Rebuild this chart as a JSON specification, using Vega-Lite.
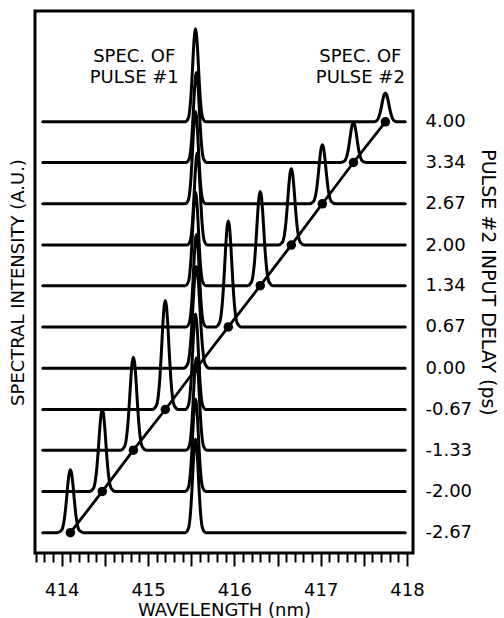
{
"$schema": "https://vega.github.io/schema/vega-lite/v6.json",
"width": 378,
"height": 542,
"autosize": {"type": "none"},
"padding": {"left": 35, "top": 11, "right": 91, "bottom": 65},
"background": "white",
"config": {"view": {"stroke": "black", "strokeWidth": 3}, "font": "DejaVu Sans"},
"datasets": {
"traces": [
{"t":"4.00","w":413.78,"v":4},
{"t":"4.00","w":415.43,"v":4},{"t":"4.00","w":415.465,"v":4.056},{"t":"4.00","w":415.484,"v":4.204},{"t":"4.00","w":415.498,"v":4.439},{"t":"4.00","w":415.512,"v":4.785},{"t":"4.00","w":415.526,"v":5.17},{"t":"4.00","w":415.539,"v":5.424},{"t":"4.00","w":415.55,"v":5.51},{"t":"4.00","w":415.561,"v":5.424},{"t":"4.00","w":415.574,"v":5.17},{"t":"4.00","w":415.588,"v":4.785},{"t":"4.00","w":415.602,"v":4.439},{"t":"4.00","w":415.616,"v":4.204},{"t":"4.00","w":415.635,"v":4.056},{"t":"4.00","w":415.67,"v":4},
{"t":"4.00","w":417.6,"v":4},{"t":"4.00","w":417.647,"v":4.017},{"t":"4.00","w":417.67,"v":4.063},{"t":"4.00","w":417.687,"v":4.137},{"t":"4.00","w":417.704,"v":4.244},{"t":"4.00","w":417.721,"v":4.364},{"t":"4.00","w":417.736,"v":4.443},{"t":"4.00","w":417.75,"v":4.47},{"t":"4.00","w":417.764,"v":4.443},{"t":"4.00","w":417.779,"v":4.364},{"t":"4.00","w":417.796,"v":4.244},{"t":"4.00","w":417.813,"v":4.137},{"t":"4.00","w":417.83,"v":4.063},{"t":"4.00","w":417.853,"v":4.017},{"t":"4.00","w":417.9,"v":4},
{"t":"4.00","w":417.98,"v":4},

{"t":"3.34","w":413.78,"v":3.34},
{"t":"3.34","w":415.44,"v":3.34},{"t":"3.34","w":415.475,"v":3.394},{"t":"3.34","w":415.494,"v":3.537},{"t":"3.34","w":415.508,"v":3.765},{"t":"3.34","w":415.522,"v":4.099},{"t":"3.34","w":415.536,"v":4.472},{"t":"3.34","w":415.549,"v":4.717},{"t":"3.34","w":415.56,"v":4.8},{"t":"3.34","w":415.571,"v":4.717},{"t":"3.34","w":415.584,"v":4.472},{"t":"3.34","w":415.598,"v":4.099},{"t":"3.34","w":415.612,"v":3.765},{"t":"3.34","w":415.626,"v":3.537},{"t":"3.34","w":415.645,"v":3.394},{"t":"3.34","w":415.68,"v":3.34},
{"t":"3.34","w":417.23,"v":3.34},{"t":"3.34","w":417.277,"v":3.364},{"t":"3.34","w":417.3,"v":3.428},{"t":"3.34","w":417.317,"v":3.529},{"t":"3.34","w":417.334,"v":3.678},{"t":"3.34","w":417.351,"v":3.844},{"t":"3.34","w":417.366,"v":3.953},{"t":"3.34","w":417.38,"v":3.99},{"t":"3.34","w":417.394,"v":3.953},{"t":"3.34","w":417.409,"v":3.844},{"t":"3.34","w":417.426,"v":3.678},{"t":"3.34","w":417.443,"v":3.529},{"t":"3.34","w":417.46,"v":3.428},{"t":"3.34","w":417.483,"v":3.364},{"t":"3.34","w":417.53,"v":3.34},
{"t":"3.34","w":417.98,"v":3.34},

{"t":"2.67","w":413.78,"v":2.67},
{"t":"2.67","w":415.43,"v":2.67},{"t":"2.67","w":415.465,"v":2.726},{"t":"2.67","w":415.484,"v":2.873},{"t":"2.67","w":415.498,"v":3.107},{"t":"2.67","w":415.512,"v":3.45},{"t":"2.67","w":415.526,"v":3.833},{"t":"2.67","w":415.539,"v":4.085},{"t":"2.67","w":415.55,"v":4.17},{"t":"2.67","w":415.561,"v":4.085},{"t":"2.67","w":415.574,"v":3.833},{"t":"2.67","w":415.588,"v":3.45},{"t":"2.67","w":415.602,"v":3.107},{"t":"2.67","w":415.616,"v":2.873},{"t":"2.67","w":415.635,"v":2.726},{"t":"2.67","w":415.67,"v":2.67},
{"t":"2.67","w":416.87,"v":2.67},{"t":"2.67","w":416.917,"v":2.706},{"t":"2.67","w":416.94,"v":2.8},{"t":"2.67","w":416.957,"v":2.949},{"t":"2.67","w":416.974,"v":3.169},{"t":"2.67","w":416.991,"v":3.414},{"t":"2.67","w":417.006,"v":3.575},{"t":"2.67","w":417.02,"v":3.63},{"t":"2.67","w":417.034,"v":3.575},{"t":"2.67","w":417.049,"v":3.414},{"t":"2.67","w":417.066,"v":3.169},{"t":"2.67","w":417.083,"v":2.949},{"t":"2.67","w":417.1,"v":2.8},{"t":"2.67","w":417.123,"v":2.706},{"t":"2.67","w":417.17,"v":2.67},
{"t":"2.67","w":417.98,"v":2.67},

{"t":"2.00","w":413.78,"v":2},
{"t":"2.00","w":415.45,"v":2},{"t":"2.00","w":415.485,"v":2.056},{"t":"2.00","w":415.504,"v":2.203},{"t":"2.00","w":415.518,"v":2.437},{"t":"2.00","w":415.532,"v":2.78},{"t":"2.00","w":415.546,"v":3.163},{"t":"2.00","w":415.559,"v":3.415},{"t":"2.00","w":415.57,"v":3.5},{"t":"2.00","w":415.581,"v":3.415},{"t":"2.00","w":415.594,"v":3.163},{"t":"2.00","w":415.608,"v":2.78},{"t":"2.00","w":415.622,"v":2.437},{"t":"2.00","w":415.636,"v":2.203},{"t":"2.00","w":415.655,"v":2.056},{"t":"2.00","w":415.69,"v":2},
{"t":"2.00","w":416.51,"v":2},{"t":"2.00","w":416.557,"v":2.046},{"t":"2.00","w":416.58,"v":2.167},{"t":"2.00","w":416.597,"v":2.361},{"t":"2.00","w":416.614,"v":2.645},{"t":"2.00","w":416.631,"v":2.961},{"t":"2.00","w":416.646,"v":3.169},{"t":"2.00","w":416.66,"v":3.24},{"t":"2.00","w":416.674,"v":3.169},{"t":"2.00","w":416.689,"v":2.961},{"t":"2.00","w":416.706,"v":2.645},{"t":"2.00","w":416.723,"v":2.361},{"t":"2.00","w":416.74,"v":2.167},{"t":"2.00","w":416.763,"v":2.046},{"t":"2.00","w":416.81,"v":2},
{"t":"2.00","w":417.98,"v":2},

{"t":"1.34","w":413.78,"v":1.34},
{"t":"1.34","w":415.43,"v":1.34},{"t":"1.34","w":415.465,"v":1.396},{"t":"1.34","w":415.484,"v":1.545},{"t":"1.34","w":415.498,"v":1.782},{"t":"1.34","w":415.512,"v":2.13},{"t":"1.34","w":415.526,"v":2.518},{"t":"1.34","w":415.539,"v":2.773},{"t":"1.34","w":415.55,"v":2.86},{"t":"1.34","w":415.561,"v":2.773},{"t":"1.34","w":415.574,"v":2.518},{"t":"1.34","w":415.588,"v":2.13},{"t":"1.34","w":415.602,"v":1.782},{"t":"1.34","w":415.616,"v":1.545},{"t":"1.34","w":415.635,"v":1.396},{"t":"1.34","w":415.67,"v":1.34},
{"t":"1.34","w":416.15,"v":1.34},{"t":"1.34","w":416.197,"v":1.397},{"t":"1.34","w":416.22,"v":1.547},{"t":"1.34","w":416.237,"v":1.785},{"t":"1.34","w":416.254,"v":2.136},{"t":"1.34","w":416.271,"v":2.526},{"t":"1.34","w":416.286,"v":2.783},{"t":"1.34","w":416.3,"v":2.87},{"t":"1.34","w":416.314,"v":2.783},{"t":"1.34","w":416.329,"v":2.526},{"t":"1.34","w":416.346,"v":2.136},{"t":"1.34","w":416.363,"v":1.785},{"t":"1.34","w":416.38,"v":1.547},{"t":"1.34","w":416.403,"v":1.397},{"t":"1.34","w":416.45,"v":1.34},
{"t":"1.34","w":417.98,"v":1.34},

{"t":"0.67","w":413.78,"v":0.67},
{"t":"0.67","w":415.44,"v":0.67},{"t":"0.67","w":415.475,"v":0.726},{"t":"0.67","w":415.494,"v":0.873},{"t":"0.67","w":415.508,"v":1.107},{"t":"0.67","w":415.522,"v":1.45},{"t":"0.67","w":415.536,"v":1.833},{"t":"0.67","w":415.549,"v":2.085},{"t":"0.67","w":415.56,"v":2.17},{"t":"0.67","w":415.571,"v":2.085},{"t":"0.67","w":415.584,"v":1.833},{"t":"0.67","w":415.598,"v":1.45},{"t":"0.67","w":415.612,"v":1.107},{"t":"0.67","w":415.626,"v":0.873},{"t":"0.67","w":415.645,"v":0.726},{"t":"0.67","w":415.68,"v":0.67},
{"t":"0.67","w":415.78,"v":0.67},{"t":"0.67","w":415.827,"v":0.734},{"t":"0.67","w":415.85,"v":0.902},{"t":"0.67","w":415.867,"v":1.171},{"t":"0.67","w":415.884,"v":1.564},{"t":"0.67","w":415.901,"v":2.003},{"t":"0.67","w":415.916,"v":2.292},{"t":"0.67","w":415.93,"v":2.39},{"t":"0.67","w":415.944,"v":2.292},{"t":"0.67","w":415.959,"v":2.003},{"t":"0.67","w":415.976,"v":1.564},{"t":"0.67","w":415.993,"v":1.171},{"t":"0.67","w":416.01,"v":0.902},{"t":"0.67","w":416.033,"v":0.734},{"t":"0.67","w":416.08,"v":0.67},
{"t":"0.67","w":417.98,"v":0.67},

{"t":"0.00","w":413.78,"v":0},
{"t":"0.00","w":415.41,"v":0},{"t":"0.00","w":415.457,"v":0.061},{"t":"0.00","w":415.48,"v":0.223},{"t":"0.00","w":415.497,"v":0.48},{"t":"0.00","w":415.514,"v":0.858},{"t":"0.00","w":415.531,"v":1.279},{"t":"0.00","w":415.546,"v":1.556},{"t":"0.00","w":415.56,"v":1.65},{"t":"0.00","w":415.574,"v":1.556},{"t":"0.00","w":415.589,"v":1.279},{"t":"0.00","w":415.606,"v":0.858},{"t":"0.00","w":415.623,"v":0.48},{"t":"0.00","w":415.64,"v":0.223},{"t":"0.00","w":415.663,"v":0.061},{"t":"0.00","w":415.71,"v":0},
{"t":"0.00","w":417.98,"v":0},

{"t":"-0.67","w":413.78,"v":-0.67},
{"t":"-0.67","w":415.05,"v":-0.67},{"t":"-0.67","w":415.097,"v":-0.605},{"t":"-0.67","w":415.12,"v":-0.431},{"t":"-0.67","w":415.137,"v":-0.155},{"t":"-0.67","w":415.154,"v":0.25},{"t":"-0.67","w":415.171,"v":0.702},{"t":"-0.67","w":415.186,"v":0.999},{"t":"-0.67","w":415.2,"v":1.1},{"t":"-0.67","w":415.214,"v":0.999},{"t":"-0.67","w":415.229,"v":0.702},{"t":"-0.67","w":415.246,"v":0.25},{"t":"-0.67","w":415.263,"v":-0.155},{"t":"-0.67","w":415.28,"v":-0.431},{"t":"-0.67","w":415.303,"v":-0.605},{"t":"-0.67","w":415.35,"v":-0.67},
{"t":"-0.67","w":415.43,"v":-0.67},{"t":"-0.67","w":415.465,"v":-0.613},{"t":"-0.67","w":415.484,"v":-0.461},{"t":"-0.67","w":415.498,"v":-0.219},{"t":"-0.67","w":415.512,"v":0.136},{"t":"-0.67","w":415.526,"v":0.531},{"t":"-0.67","w":415.539,"v":0.792},{"t":"-0.67","w":415.55,"v":0.88},{"t":"-0.67","w":415.561,"v":0.792},{"t":"-0.67","w":415.574,"v":0.531},{"t":"-0.67","w":415.588,"v":0.136},{"t":"-0.67","w":415.602,"v":-0.219},{"t":"-0.67","w":415.616,"v":-0.461},{"t":"-0.67","w":415.635,"v":-0.613},{"t":"-0.67","w":415.67,"v":-0.67},
{"t":"-0.67","w":417.98,"v":-0.67},

{"t":"-1.33","w":413.78,"v":-1.33},
{"t":"-1.33","w":414.68,"v":-1.33},{"t":"-1.33","w":414.727,"v":-1.274},{"t":"-1.33","w":414.75,"v":-1.126},{"t":"-1.33","w":414.767,"v":-0.891},{"t":"-1.33","w":414.784,"v":-0.545},{"t":"-1.33","w":414.801,"v":-0.16},{"t":"-1.33","w":414.816,"v":0.094},{"t":"-1.33","w":414.83,"v":0.18},{"t":"-1.33","w":414.844,"v":0.094},{"t":"-1.33","w":414.859,"v":-0.16},{"t":"-1.33","w":414.876,"v":-0.545},{"t":"-1.33","w":414.893,"v":-0.891},{"t":"-1.33","w":414.91,"v":-1.126},{"t":"-1.33","w":414.933,"v":-1.274},{"t":"-1.33","w":414.98,"v":-1.33},
{"t":"-1.33","w":415.44,"v":-1.33},{"t":"-1.33","w":415.475,"v":-1.274},{"t":"-1.33","w":415.494,"v":-1.127},{"t":"-1.33","w":415.508,"v":-0.893},{"t":"-1.33","w":415.522,"v":-0.55},{"t":"-1.33","w":415.536,"v":-0.167},{"t":"-1.33","w":415.549,"v":0.085},{"t":"-1.33","w":415.56,"v":0.17},{"t":"-1.33","w":415.571,"v":0.085},{"t":"-1.33","w":415.584,"v":-0.167},{"t":"-1.33","w":415.598,"v":-0.55},{"t":"-1.33","w":415.612,"v":-0.893},{"t":"-1.33","w":415.626,"v":-1.127},{"t":"-1.33","w":415.645,"v":-1.274},{"t":"-1.33","w":415.68,"v":-1.33},
{"t":"-1.33","w":417.98,"v":-1.33},

{"t":"-2.00","w":413.78,"v":-2},
{"t":"-2.00","w":414.32,"v":-2},{"t":"-2.00","w":414.367,"v":-1.951},{"t":"-2.00","w":414.39,"v":-1.82},{"t":"-2.00","w":414.407,"v":-1.613},{"t":"-2.00","w":414.424,"v":-1.308},{"t":"-2.00","w":414.441,"v":-0.969},{"t":"-2.00","w":414.456,"v":-0.746},{"t":"-2.00","w":414.47,"v":-0.67},{"t":"-2.00","w":414.484,"v":-0.746},{"t":"-2.00","w":414.499,"v":-0.969},{"t":"-2.00","w":414.516,"v":-1.308},{"t":"-2.00","w":414.533,"v":-1.613},{"t":"-2.00","w":414.55,"v":-1.82},{"t":"-2.00","w":414.573,"v":-1.951},{"t":"-2.00","w":414.62,"v":-2},
{"t":"-2.00","w":415.43,"v":-2},{"t":"-2.00","w":415.465,"v":-1.944},{"t":"-2.00","w":415.484,"v":-1.797},{"t":"-2.00","w":415.498,"v":-1.563},{"t":"-2.00","w":415.512,"v":-1.22},{"t":"-2.00","w":415.526,"v":-0.837},{"t":"-2.00","w":415.539,"v":-0.585},{"t":"-2.00","w":415.55,"v":-0.5},{"t":"-2.00","w":415.561,"v":-0.585},{"t":"-2.00","w":415.574,"v":-0.837},{"t":"-2.00","w":415.588,"v":-1.22},{"t":"-2.00","w":415.602,"v":-1.563},{"t":"-2.00","w":415.616,"v":-1.797},{"t":"-2.00","w":415.635,"v":-1.944},{"t":"-2.00","w":415.67,"v":-2},
{"t":"-2.00","w":417.98,"v":-2},

{"t":"-2.67","w":413.78,"v":-2.67},
{"t":"-2.67","w":413.95,"v":-2.67},{"t":"-2.67","w":413.997,"v":-2.632},{"t":"-2.67","w":414.02,"v":-2.532},{"t":"-2.67","w":414.037,"v":-2.373},{"t":"-2.67","w":414.054,"v":-2.14},{"t":"-2.67","w":414.071,"v":-1.879},{"t":"-2.67","w":414.086,"v":-1.708},{"t":"-2.67","w":414.1,"v":-1.65},{"t":"-2.67","w":414.114,"v":-1.708},{"t":"-2.67","w":414.129,"v":-1.879},{"t":"-2.67","w":414.146,"v":-2.14},{"t":"-2.67","w":414.163,"v":-2.373},{"t":"-2.67","w":414.18,"v":-2.532},{"t":"-2.67","w":414.203,"v":-2.632},{"t":"-2.67","w":414.25,"v":-2.67},
{"t":"-2.67","w":415.43,"v":-2.67},{"t":"-2.67","w":415.465,"v":-2.614},{"t":"-2.67","w":415.484,"v":-2.465},{"t":"-2.67","w":415.498,"v":-2.228},{"t":"-2.67","w":415.512,"v":-1.88},{"t":"-2.67","w":415.526,"v":-1.492},{"t":"-2.67","w":415.539,"v":-1.237},{"t":"-2.67","w":415.55,"v":-1.15},{"t":"-2.67","w":415.561,"v":-1.237},{"t":"-2.67","w":415.574,"v":-1.492},{"t":"-2.67","w":415.588,"v":-1.88},{"t":"-2.67","w":415.602,"v":-2.228},{"t":"-2.67","w":415.616,"v":-2.465},{"t":"-2.67","w":415.635,"v":-2.614},{"t":"-2.67","w":415.67,"v":-2.67},
{"t":"-2.67","w":417.98,"v":-2.67}
],
"dots": [
{"w":414.1,"v":-2.67},{"w":414.47,"v":-2},{"w":414.83,"v":-1.33},{"w":415.2,"v":-0.67},{"w":415.56,"v":0},{"w":415.93,"v":0.67},{"w":416.3,"v":1.34},{"w":416.66,"v":2},{"w":417.02,"v":2.67},{"w":417.38,"v":3.34},{"w":417.75,"v":4}
],
"notes": [
{"w":414.84,"v":5.058,"label":"SPEC. OF"},{"w":414.84,"v":4.707,"label":"PULSE #1"},
{"w":417.46,"v":5.058,"label":"SPEC. OF"},{"w":417.46,"v":4.707,"label":"PULSE #2"}
]
},
"encoding": {
"x": {"field": "w", "type": "quantitative",
"scale": {"domain": [413.69, 418.07], "nice": false, "zero": false},
"axis": {"orient": "bottom", "title": "WAVELENGTH (nm)",
"values": [413.7,413.8,413.9,414,414.1,414.2,414.3,414.4,414.5,414.6,414.7,414.8,414.9,415,415.1,415.2,415.3,415.4,415.5,415.6,415.7,415.8,415.9,416,416.1,416.2,416.3,416.4,416.5,416.6,416.7,416.8,416.9,417,417.1,417.2,417.3,417.4,417.5,417.6,417.7,417.8,417.9,418],
"tickSize": {"condition": {"test": "abs(datum.value*2 - round(datum.value*2)) < 0.01", "value": 13}, "value": 9},
"tickWidth": 2, "tickColor": "black", "domain": false, "grid": false,
"labelExpr": "abs(datum.value - round(datum.value)) < 0.01 ? format(datum.value, 'd') : ''",
"labelFontSize": 18, "labelColor": "black", "labelPadding": 15, "labelOverlap": false, "labelFlush": false, "labelBound": false,
"titleFontSize": 18, "titleFontWeight": "normal", "titleColor": "black", "titlePadding": 2}}
},
"layer": [
{
"data": {"name": "traces"},
"mark": {"type": "line", "interpolate": "monotone", "color": "black", "strokeWidth": 3, "strokeJoin": "round", "strokeCap": "round"},
"encoding": {
"y": {"field": "v", "type": "quantitative",
"scale": {"domain": [-3.0, 5.8], "nice": false, "zero": false},
"axis": {"orient": "left", "title": "SPECTRAL INTENSITY (A.U.)", "labels": false, "ticks": false, "domain": false, "grid": false,
"titleFontSize": 18, "titleFontWeight": "normal", "titleColor": "black", "titlePadding": 8}},
"detail": {"field": "t", "type": "nominal"}
}
},
{
"data": {"name": "dots"},
"mark": {"type": "line", "color": "black", "strokeWidth": 2.8},
"encoding": {
"y": {"field": "v", "type": "quantitative",
"axis": {"orient": "right", "title": "PULSE #2 INPUT DELAY (ps)",
"values": [4, 3.34, 2.67, 2, 1.34, 0.67, 0, -0.67, -1.33, -2, -2.67],
"format": ".2f", "labelExpr": "replace(datum.label, '\u2212', '-')",
"ticks": false, "domain": false, "grid": false, "labelPadding": 12,
"labelFontSize": 18, "labelColor": "black", "labelOverlap": false, "labelFlush": false, "labelBound": false,
"titleFontSize": 19, "titleFontWeight": "normal", "titleColor": "black", "titlePadding": 6}}
}
},
{
"data": {"name": "dots"},
"mark": {"type": "point", "shape": "circle", "filled": true, "color": "black", "opacity": 1, "size": 90},
"encoding": {
"y": {"field": "v", "type": "quantitative", "axis": null}
}
},
{
"data": {"name": "notes"},
"mark": {"type": "text", "fontSize": 18, "color": "black", "align": "center", "baseline": "middle", "font": "DejaVu Sans"},
"encoding": {
"y": {"field": "v", "type": "quantitative", "axis": null},
"text": {"field": "label"}
}
}
],
"resolve": {"axis": {"y": "independent"}}
}
